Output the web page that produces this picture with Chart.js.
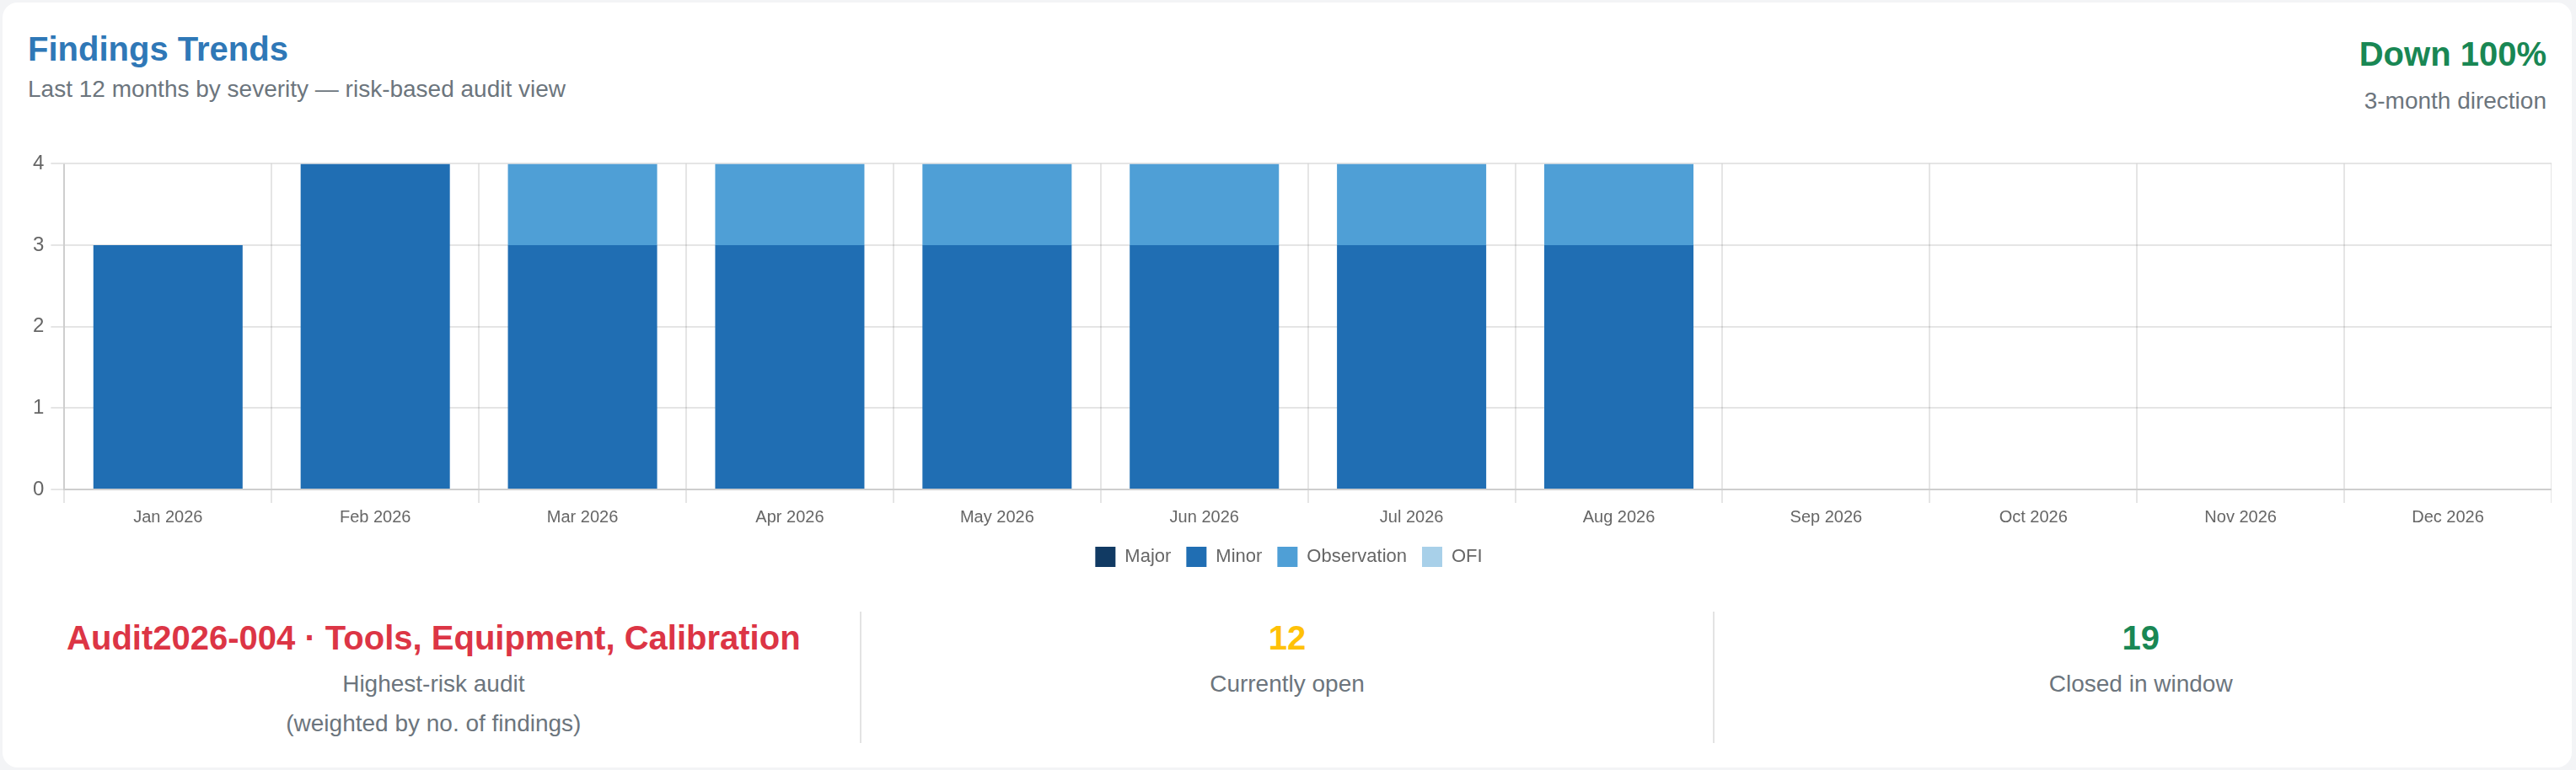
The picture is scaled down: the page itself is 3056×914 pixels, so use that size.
<!DOCTYPE html>
<html>
<head>
<meta charset="utf-8">
<script src="https://cdn.jsdelivr.net/npm/chart.js@4.4.1/dist/chart.umd.min.js"></script>
<style>
  html, body { margin: 0; padding: 0; }
  body { width: 3056px; height: 914px; background: #f3f4f6; font-family: "Liberation Sans", Arial, sans-serif; position: relative; overflow: hidden; }
  .card { position: absolute; left: 3px; top: 3px; width: 3048px; height: 908px; background: #fff; border-radius: 18px; }
  .abs { position: absolute; line-height: 1; white-space: nowrap; }
  .title { left: 30px; top: 35px; font-size: 40px; font-weight: bold; color: #2f78b7; }
  .sub { left: 30px; top: 89px; font-size: 28px; color: #6c757d; }
  .trend { right: 30px; top: 41px; font-size: 40px; font-weight: bold; color: #198754; }
  .trend-sub { right: 30px; top: 103px; font-size: 28px; color: #6c757d; }
  .chartBox { position: absolute; left: 28px; top: 169px; width: 2996px; height: 511px; }
  .stats { position: absolute; left: 6px; top: 723px; width: 3036px; height: 156px; display: flex; }
  .stat { flex: 1; text-align: center; border-left: 2px solid #e3e3e3; }
  .stat:first-child { border-left: none; }
  .stat .v { font-size: 40px; font-weight: bold; line-height: 1; margin-top: 11px; }
  .stat .l { font-size: 28px; color: #6c757d; line-height: 1; margin-top: 21px; }
  .stat .l2 { font-size: 28px; color: #6c757d; line-height: 1; margin-top: 19px; }
</style>
</head>
<body>
<div class="card">
  <div class="abs title">Findings Trends</div>
  <div class="abs sub">Last 12 months by severity — risk-based audit view</div>
  <div class="abs trend">Down 100%</div>
  <div class="abs trend-sub">3-month direction</div>
  <div class="chartBox"><canvas id="myChart"></canvas></div>
  <div class="stats">
    <div class="stat">
      <div class="v" style="color:#dc3545">Audit2026-004 · Tools, Equipment, Calibration</div>
      <div class="l">Highest-risk audit</div>
      <div class="l2">(weighted by no. of findings)</div>
    </div>
    <div class="stat">
      <div class="v" style="color:#ffc107">12</div>
      <div class="l">Currently open</div>
    </div>
    <div class="stat">
      <div class="v" style="color:#198754">19</div>
      <div class="l">Closed in window</div>
    </div>
  </div>
</div>
<script>
const months = ["Jan 2026","Feb 2026","Mar 2026","Apr 2026","May 2026","Jun 2026","Jul 2026","Aug 2026","Sep 2026","Oct 2026","Nov 2026","Dec 2026"];
const major = [0,0,0,0,0,0,0,0,0,0,0,0];
const minor = [3,4,3,3,3,3,3,3,0,0,0,0];
const observation = [0,0,1,1,1,1,1,1,0,0,0,0];
const ofi = [0,0,0,0,0,0,0,0,0,0,0,0];

const ctx = document.getElementById('myChart').getContext('2d');
const myChart = new Chart(ctx, {
  type: 'bar',
  data: {
    labels: months,
    datasets: [
      { label: "Major", data: major, backgroundColor: '#113a63' },
      { label: "Minor", data: minor, backgroundColor: '#206eb3' },
      { label: "Observation", data: observation, backgroundColor: '#4f9fd6' },
      { label: "OFI", data: ofi, backgroundColor: '#a8d0e9' },
    ],
  },
  options: {
    responsive: true,
    maintainAspectRatio: false,
    animation: false,
    devicePixelRatio: 1,
    scales: {
      x: {
        stacked: true,
        grid: { lineWidth: 2, tickLength: 16 },
        border: { width: 2 },
        ticks: { color: '#666', font: { size: 20, family: '"Liberation Sans", Arial' }, padding: 5 }
      },
      y: {
        stacked: true,
        beginAtZero: true,
        grid: { lineWidth: 2, tickLength: 16 },
        border: { width: 2 },
        ticks: { stepSize: 1, color: '#666', font: { size: 24, family: '"Liberation Sans", Arial' }, padding: 8 }
      }
    },
    plugins: {
      legend: {
        position: 'bottom',
        labels: {
          boxWidth: 24, boxHeight: 24, padding: 18, color: '#666',
          font: { size: 22, family: '"Liberation Sans", Arial' }
        }
      },
      tooltip: { enabled: false }
    }
  }
});
</script>
</body>
</html>
